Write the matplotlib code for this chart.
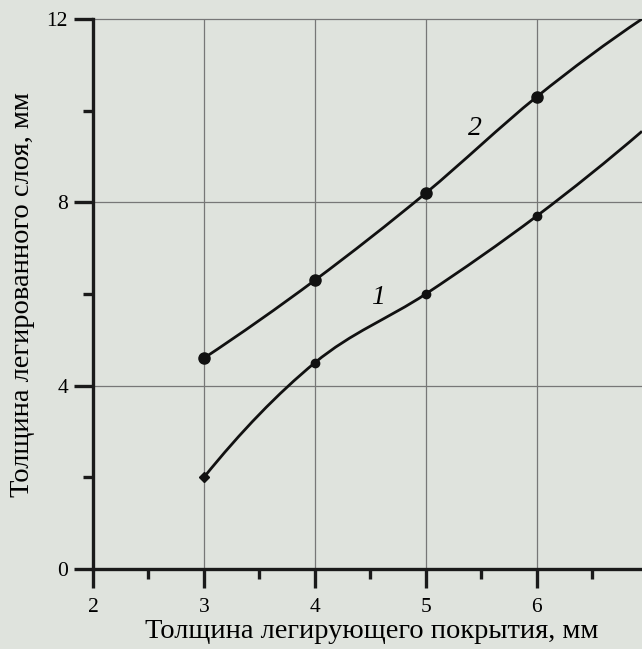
import matplotlib
matplotlib.use("Agg")
import matplotlib.pyplot as plt
import numpy as np
from matplotlib.path import Path
from matplotlib.patches import PathPatch
from matplotlib.ticker import MultipleLocator

# data
x_marks = [3, 4, 5, 6]
curve1_y = [2.0, 4.5, 6.0, 7.7]
curve2_y = [4.6, 6.3, 8.2, 10.3]
# where each curve leaves the frame on the right
x_end = 6.95
curve1_end = 9.55
curve2_end = 12.0

BG = "#dfe3dd"
plt.rcParams["font.family"] = ["Liberation Serif", "DejaVu Serif"]


def smooth_path(xs, ys):
    """Cubic Hermite (Catmull-Rom inside, parabolic ends) as Bezier segments."""
    pts = np.column_stack([xs, ys]).astype(float)
    n = len(pts)
    tang = np.zeros_like(pts)
    tang[1:-1] = (pts[2:] - pts[:-2]) / 2
    tang[0] = 2 * (pts[1] - pts[0]) - tang[1]
    tang[-1] = 2 * (pts[-1] - pts[-2]) - tang[-2]
    verts = [pts[0]]
    codes = [Path.MOVETO]
    for i in range(n - 1):
        verts += [pts[i] + tang[i] / 3, pts[i + 1] - tang[i + 1] / 3, pts[i + 1]]
        codes += [Path.CURVE4] * 3
    return Path(verts, codes)


fig = plt.figure(figsize=(6.42, 6.49), dpi=100, facecolor=BG)
ax = fig.add_axes([93 / 642, 80 / 649, 1 - 93 / 642, 550 / 649])
ax.set_facecolor(BG)
ax.set_xlim(2, x_end)
ax.set_ylim(0, 12)

for sp in ("top", "right"):
    ax.spines[sp].set_visible(False)
for sp in ("left", "bottom"):
    ax.spines[sp].set_linewidth(2.4)
    ax.spines[sp].set_color("#1a1a1a")

ax.xaxis.set_major_locator(MultipleLocator(1))
ax.xaxis.set_minor_locator(MultipleLocator(0.5))
ax.yaxis.set_major_locator(MultipleLocator(4))
ax.yaxis.set_minor_locator(MultipleLocator(2))
ax.tick_params(which="major", direction="out", length=14, width=2.4,
               color="#1a1a1a", labelsize=15.5)
ax.tick_params(axis="x", which="major", pad=7)
ax.tick_params(axis="y", which="major", pad=4)
ax.tick_params(which="minor", direction="out", length=7, width=2.4,
               color="#1a1a1a")

for xv in x_marks:
    ax.axvline(xv, color="#777777", lw=0.9, zorder=1)
for yv in (4, 8, 12):
    ax.axhline(yv, color="#777777", lw=0.9, zorder=1, clip_on=False)

for ys, yend in ((curve1_y, curve1_end), (curve2_y, curve2_end)):
    path = smooth_path(x_marks + [x_end], ys + [yend])
    ax.add_patch(PathPatch(path, fill=False, ec="#111111", lw=2.0, zorder=3))

ax.plot(x_marks[:1], curve1_y[:1], "D", color="#111111", ms=5, zorder=4)
ax.plot(x_marks[1:], curve1_y[1:], "o", color="#111111", ms=6, zorder=4)
ax.plot(x_marks, curve2_y, "o", color="#111111", ms=8, zorder=4)

ax.text(4.57, 5.93, "1", fontsize=20, style="italic", ha="center", va="center")
ax.text(5.44, 9.62, "2", fontsize=20, style="italic", ha="center", va="center")

ax.set_xlabel("Толщина легирующего покрытия, мм", fontsize=20.5, va="center")
ax.set_ylabel("Толщина легированного слоя, мм", fontsize=20.5, va="center")
ax.xaxis.set_label_coords((372 - 93) / 549, -(632 - 569) / 550)
ax.yaxis.set_label_coords((23 - 93) / 549, (569 - 295) / 550)

fig.savefig("out.png", dpi=100, facecolor=BG)
